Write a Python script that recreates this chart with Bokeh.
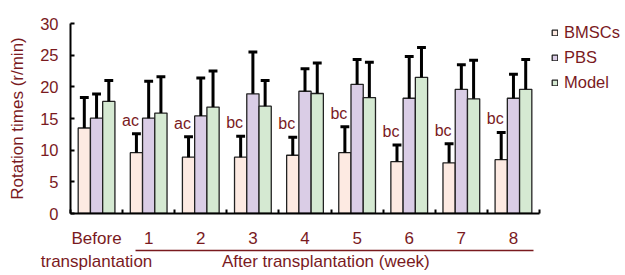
from bokeh.plotting import figure
from bokeh.models import (Range1d, LinearAxis, FixedTicker, Legend, LegendItem,
                          ColumnDataSource)
from bokeh.core.properties import value
from bokeh.embed import file_html
from bokeh.resources import INLINE

# ---- data ----
groups = ["Before", "1", "2", "3", "4", "5", "6", "7", "8"]
group_sub = "transplantation"
x_title = "After transplantation (week)"
y_title = "Rotation times (r/min)"
series = ["BMSCs", "PBS", "Model"]
bmsc = [13.5, 9.6, 8.9, 8.9, 9.2, 9.6, 8.2, 8.0, 8.5]
bmsc_sd = [4.8, 3.0, 3.2, 3.3, 2.85, 4.1, 2.6, 3.0, 4.3]
pbs = [15.05, 15.05, 15.4, 18.9, 19.3, 20.4, 18.2, 19.6, 18.2]
pbs_sd = [3.8, 5.85, 6.0, 6.6, 3.55, 3.9, 6.6, 3.9, 3.8]
model = [17.7, 15.85, 16.8, 16.95, 18.95, 18.3, 21.5, 18.1, 19.6]
model_sd = [3.3, 5.75, 5.7, 4.05, 4.8, 5.6, 4.7, 6.1, 4.7]
sig = ["", "ac", "ac", "bc", "bc", "bc", "bc", "bc", "bc"]
y_ticks = [0, 5, 10, 15, 20, 25, 30]

# ---- styles ----
FONT = "Liberation Sans"
TXT = "#7a1a1e"
fills = ["#fdeae2", "#dacde6", "#d5e9d2"]
BAR_W = 0.235
offsets = [-0.235, 0.0, 0.235]
n = len(groups)

# frame spans to the right edge so the legend sits inside it;
# the x axis itself is bounded to the groups
p = figure(width=625, height=275, output_backend="svg", toolbar_location=None,
           x_range=Range1d(-0.5, 10.15), y_range=Range1d(0, 30),
           x_axis_type=None, y_axis_type=None,
           min_border_left=70, min_border_right=0, min_border_top=23,
           min_border_bottom=62)
p.outline_line_color = None
p.background_fill_color = "white"
p.border_fill_color = "white"

xi = list(range(n))
items = []
for name, vals, sds, fc, off in zip(series, [bmsc, pbs, model],
                                   [bmsc_sd, pbs_sd, model_sd], fills, offsets):
    xs = [i + off for i in xi]
    tops = [v + s for v, s in zip(vals, sds)]
    src = ColumnDataSource(dict(x=xs, top=vals, etop=tops,
                                cl=[x - 0.085 for x in xs], cr=[x + 0.085 for x in xs]))
    r = p.vbar(x="x", top="top", bottom=0, width=BAR_W, source=src,
               fill_color=fc, line_color="#222222", line_width=1.3)
    p.segment(x0="x", y0="top", x1="x", y1="etop", source=src,
              line_color="black", line_width=3)
    p.segment(x0="cl", y0="etop", x1="cr", y1="etop", source=src,
              line_color="black", line_width=3)
    items.append(LegendItem(label=name, renderers=[r]))

# significance letters
lab_x = [i - 0.35 for i in xi if sig[i]]
lab_y = [bmsc[i] + bmsc_sd[i] + 2.15 for i in xi if sig[i]]
lab_t = [s for s in sig if s]
p.text(x=lab_x, y=lab_y, text=lab_t, text_align="center", text_baseline="middle",
       text_color=TXT, text_font=value(FONT), text_font_size="16px")

# y axis
ya = LinearAxis(ticker=FixedTicker(ticks=y_ticks), axis_label=y_title)
ya.major_tick_in = 4
ya.major_tick_out = 0
ya.minor_tick_in = 0
ya.minor_tick_out = 0
ya.axis_line_width = 2
ya.major_tick_line_width = 2
ya.major_label_standoff = 12
ya.axis_label_standoff = 10
ya.major_label_text_font = FONT
ya.major_label_text_font_size = "16.5px"
ya.major_label_text_color = TXT
ya.axis_label_text_font = FONT
ya.axis_label_text_font_size = "17px"
ya.axis_label_text_font_style = "normal"
ya.axis_label_text_color = TXT
p.add_layout(ya, "left")

# x axis (group labels, boundary ticks)
xa = LinearAxis(ticker=FixedTicker(ticks=xi, minor_ticks=[i - 0.5 for i in range(n + 1)]),
                bounds=(-0.5, n - 0.5))
xa.major_label_overrides = {i: g for i, g in enumerate(groups)}
xa.major_tick_in = 0
xa.major_tick_out = 0
xa.minor_tick_in = 4
xa.minor_tick_out = 0
xa.minor_tick_line_width = 2
xa.axis_line_width = 2
xa.major_label_standoff = 15
xa.major_label_text_font = FONT
xa.major_label_text_font_size = "17px"
xa.major_label_text_color = TXT
p.add_layout(xa, "below")

# underline below the week labels
ua = LinearAxis(ticker=FixedTicker(ticks=[]), bounds=(0.75, 8.39))
ua.major_tick_in = 0
ua.major_tick_out = 0
ua.minor_tick_in = 0
ua.minor_tick_out = 0
ua.major_label_standoff = 0
ua.axis_line_color = TXT
ua.axis_line_width = 1.4
p.add_layout(ua, "below")

# second text line: "transplantation" and the x title
la = LinearAxis(ticker=FixedTicker(ticks=[0, 4.4]))
la.major_label_overrides = {0: group_sub, 4.4: x_title}
la.axis_line_color = None
la.major_tick_in = 0
la.major_tick_out = 0
la.minor_tick_in = 0
la.minor_tick_out = 0
la.major_label_standoff = 1
la.major_label_text_font = FONT
la.major_label_text_font_size = "17px"
la.major_label_text_color = TXT
p.add_layout(la, "below")

legend = Legend(items=items, location=(481, 121), orientation="vertical",
                glyph_width=7, glyph_height=7, label_standoff=6, label_height=20,
                spacing=5, padding=0, margin=0, border_line_color=None,
                background_fill_alpha=0, label_text_font=FONT,
                label_text_font_size="16.5px", label_text_color=TXT)
p.add_layout(legend, "center")

open("out.html", "w").write(file_html(p, INLINE))
